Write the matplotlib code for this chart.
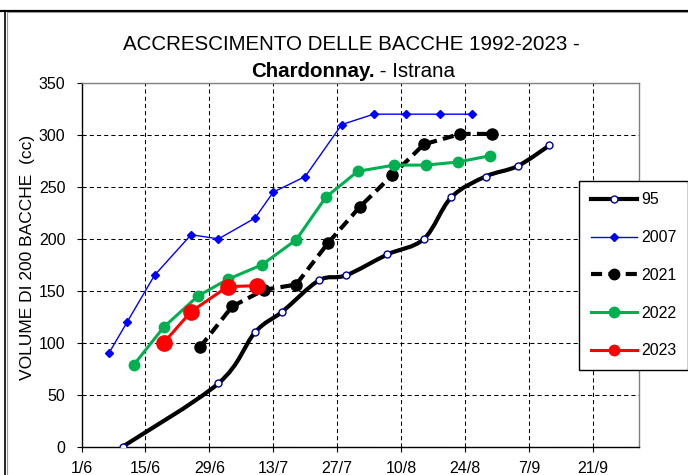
import numpy as np
import matplotlib
matplotlib.use('Agg')
import matplotlib.pyplot as plt
from matplotlib.path import Path
from matplotlib.patches import PathPatch
from matplotlib.lines import Line2D

plt.rcParams['font.family'] = ['Liberation Sans', 'DejaVu Sans']
plt.rcParams['lines.scale_dashes'] = False

# days counted from 1 June
tick_days = [0, 14, 28, 42, 56, 70, 84, 98, 112]
tick_labels = ['1/6', '15/6', '29/6', '13/7', '27/7', '10/8', '24/8', '7/9', '21/9']

d95 = [9, 30, 38, 44, 52, 58, 67, 75, 81, 88.5, 95.5, 102.5]
v95 = [0, 61, 110, 130, 160, 165, 185, 200, 240, 260, 270, 290]

d2007 = [6, 10, 16, 24, 30, 38, 42, 49, 57, 64, 71, 78.5, 85.5]
v2007 = [90, 120, 165, 204, 200, 220, 245, 260, 310, 320, 320, 320, 320]

d2021 = [26, 33, 40, 47, 54, 61, 68, 75, 83, 90]
v2021 = [96, 135, 151, 156, 196, 231, 261, 291, 301, 301]

d2022 = [11.5, 18, 25.5, 32, 39.5, 47, 53.5, 60.5, 68.5, 75.5, 82.5, 89.5]
v2022 = [79, 115, 145, 161, 175, 199, 240, 265, 271, 271, 274, 280]

d2023 = [18, 24, 32, 38.5]
v2023 = [100, 130, 154, 155]


def smooth_path(x, y):
    # excel style smoothed line (catmull-rom through the points)
    pts = np.column_stack([x, y]).astype(float)
    p = np.vstack([pts[0], pts, pts[-1]])
    verts = [pts[0]]
    codes = [Path.MOVETO]
    for i in range(1, len(p) - 2):
        c1 = p[i] + (p[i + 1] - p[i - 1]) / 6
        c2 = p[i + 1] - (p[i + 2] - p[i]) / 6
        verts += [c1, c2, p[i + 1]]
        codes += [Path.CURVE4] * 3
    return Path(verts, codes)


fig = plt.figure(figsize=(6.88, 4.75), dpi=100)
ax = fig.add_axes([81.5 / 688, 1 - 446.7 / 475, 557 / 688, 363.7 / 475])

# 95: smoothed black line with open circles
ax.add_patch(PathPatch(smooth_path(d95, v95), fill=False, edgecolor='black',
                       lw=3, capstyle='round', joinstyle='round', zorder=2))
ax.plot(d95, v95, 'o', ms=5, mfc='white', mec='#000099', mew=1, zorder=3)

ax.plot(d2007, v2007, color='#0000FF', lw=1, marker='D', ms=4.5, zorder=3)
ax.plot(d2021, v2021, color='black', lw=3, dashes=(8, 4.5), marker='o', ms=8,
        zorder=4)
ax.plot(d2022, v2022, color='#00B050', lw=2.2, marker='o', ms=7.5, zorder=5)
ax.plot(d2023, v2023, color='#FF0000', lw=2.2, marker='o', ms=11, zorder=6)

ax.set_xlim(0, 122)
ax.set_ylim(0, 350)
ax.set_xticks(tick_days)
ax.set_xticklabels(tick_labels)
ax.set_yticks(range(0, 351, 50))
ax.tick_params(direction='out', length=3.6, width=0.8, labelsize=11.5,
               colors='black')
ax.tick_params(axis='y', pad=8)
ax.tick_params(axis='x', pad=6.5)

ax.set_axisbelow(True)
ax.grid(True, color='black', lw=0.75, dashes=(3, 2.2))
for s in ['top', 'right']:
    ax.spines[s].set_color('#808080')
    ax.spines[s].set_linewidth(1)
for s in ['left', 'bottom']:
    ax.spines[s].set_color('black')
    ax.spines[s].set_linewidth(1)

# legend
handles = [
    Line2D([], [], color='black', lw=3, marker='o', ms=5, mfc='white',
           mec='#000099', mew=1),
    Line2D([], [], color='#0000FF', lw=1, marker='D', ms=4.5),
    Line2D([], [], color='black', lw=3, dashes=(8, 4.5), marker='o', ms=7.5),
    Line2D([], [], color='#00B050', lw=2.2, marker='o', ms=7.5),
    Line2D([], [], color='#FF0000', lw=2.2, marker='o', ms=7.5),
]
leg = fig.legend(handles, ['95', '2007', '2021', '2022', '2023'],
                 loc='upper left', bbox_to_anchor=(579 / 688, 1 - 181 / 475),
                 borderaxespad=0, fontsize=11.5, handlelength=2.9,
                 handletextpad=0.3, labelspacing=1.42, borderpad=0.72,
                 fancybox=False, framealpha=1, edgecolor='black')
leg.get_frame().set_linewidth(1)

# titles
fig.text(351 / 688, 1 - 50 / 475, 'ACCRESCIMENTO DELLE BACCHE 1992-2023 -',
         ha='center', va='baseline', fontsize=14.8)
fig.text(374.5 / 688, 1 - 77 / 475, 'Chardonnay.', ha='right', va='baseline',
         fontsize=14.8, fontweight='bold')
fig.text(374.5 / 688, 1 - 77 / 475, ' - Istrana', ha='left', va='baseline',
         fontsize=14.8)
fig.text(27.7 / 688, 1 - 257.5 / 475, 'VOLUME DI 200 BACCHE  (cc)',
         rotation=90, ha='center', va='center', fontsize=12.5)

# chart area border (top and left only visible)
fig.add_artist(Line2D([0, 1], [1 - 10.5 / 475] * 2, transform=fig.transFigure,
                      color='black', lw=1.6))
fig.add_artist(Line2D([6.5 / 688, 1], [1 - 12.3 / 475] * 2,
                      transform=fig.transFigure, color='#999999', lw=0.8))
fig.add_artist(Line2D([5.2 / 688] * 2, [0, 1 - 11 / 475],
                      transform=fig.transFigure, color='black', lw=1.2))
fig.add_artist(Line2D([6.6 / 688] * 2, [0, 1 - 12.3 / 475],
                      transform=fig.transFigure, color='#999999', lw=0.8))

fig.savefig('out.png', dpi=100)
